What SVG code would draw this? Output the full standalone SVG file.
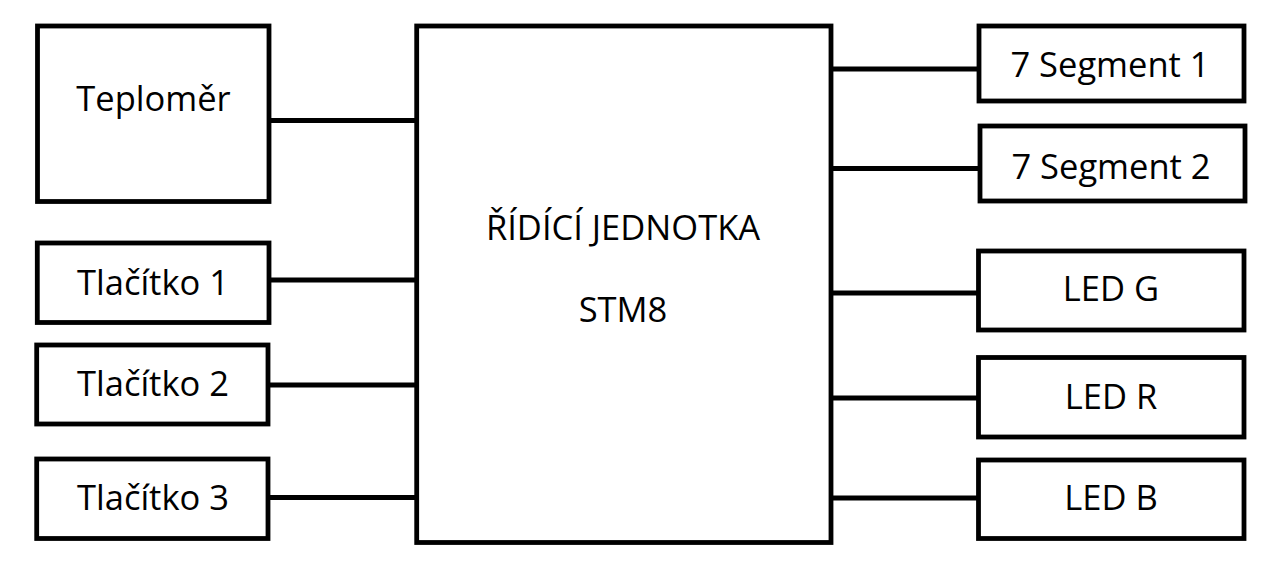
<svg xmlns="http://www.w3.org/2000/svg" width="1279" height="570" viewBox="0 0 1279 570">
<style>
rect{fill:#fff;stroke:#000;stroke-width:4.8}
line{stroke:#000;stroke-width:4.8}
text{font-family:"Open Sans","Noto Sans",sans-serif;font-size:34.5px;fill:#000;text-anchor:middle}
</style>
<rect x="0" y="0" width="1279" height="570" style="stroke:none"/>
<g id="connectors">
<line x1="269" y1="120.5" x2="417" y2="120.5"/>
<line x1="269" y1="280" x2="417" y2="280"/>
<line x1="268" y1="385" x2="417" y2="385"/>
<line x1="268" y1="497.5" x2="417" y2="497.5"/>
<line x1="831" y1="69" x2="979" y2="69"/>
<line x1="831" y1="168.5" x2="979" y2="168.5"/>
<line x1="831" y1="293" x2="979" y2="293"/>
<line x1="831" y1="398" x2="979" y2="398"/>
<line x1="831" y1="498" x2="979" y2="498"/>
</g>
<g id="mcu">
<rect x="416.7" y="26" width="414.3" height="516.5"/>
<text x="623" y="239.5">ŘÍDÍCÍ JEDNOTKA</text>
<text x="623" y="321.5">STM8</text>
</g>
<g id="teplomer">
<rect x="37.5" y="26" width="231.5" height="175.5"/>
<text x="153.5" y="110.5">Teploměr</text>
</g>
<g id="tlacitko1">
<rect x="37.3" y="243" width="231.7" height="79.5"/>
<text x="153" y="294.8">Tlačítko 1</text>
</g>
<g id="tlacitko2">
<rect x="36.7" y="345" width="231.3" height="79"/>
<text x="153" y="395.5">Tlačítko 2</text>
</g>
<g id="tlacitko3">
<rect x="36.7" y="459" width="231.3" height="79.5"/>
<text x="153" y="509.8">Tlačítko 3</text>
</g>
<g id="seg1">
<rect x="979" y="26" width="265" height="75"/>
<text x="1110" y="76.5">7 Segment 1</text>
</g>
<g id="seg2">
<rect x="980" y="126" width="265" height="75"/>
<text x="1111" y="178.8">7 Segment 2</text>
</g>
<g id="ledg">
<rect x="978.5" y="251" width="265.5" height="79"/>
<text x="1111" y="301.2">LED G</text>
</g>
<g id="ledr">
<rect x="978.5" y="357.5" width="265.5" height="79.5"/>
<text x="1111" y="408.8">LED R</text>
</g>
<g id="ledb">
<rect x="978.5" y="460" width="265.5" height="78.5"/>
<text x="1111" y="509.8">LED B</text>
</g>
</svg>
